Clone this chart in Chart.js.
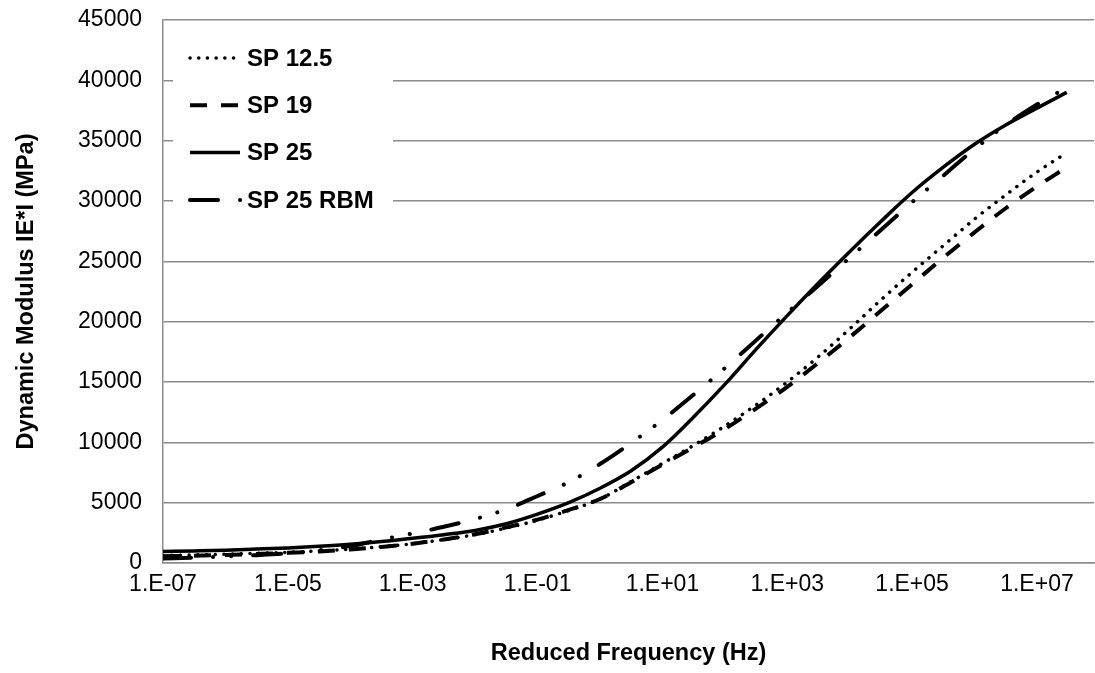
<!DOCTYPE html>
<html>
<head>
<meta charset="utf-8">
<script src="https://cdn.jsdelivr.net/npm/chart.js@4/dist/chart.umd.min.js"></script>
<style>
  html, body { margin: 0; padding: 0; background: #fff; }
</style>
</head>
<body>
<canvas id="chart" width="1095" height="673"></canvas>
<script>
// reduced frequency (Hz), half-decade steps
const freq = [1e-7, 3.16e-7, 1e-6, 3.16e-6, 1e-5, 3.16e-5, 1e-4, 3.16e-4, 1e-3, 3.16e-3,
  1e-2, 3.16e-2, 1e-1, 3.16e-1, 1, 3.16, 10, 31.6, 100, 316,
  1e3, 3.16e3, 1e4, 3.16e4, 1e5, 3.16e5, 1e6, 3.16e6, 1e7, 3e7];

// dynamic modulus |E*| (MPa)
const sp125 = [620, 670, 730, 800, 890, 1000, 1150, 1350, 1600, 1950,
  2350, 2900, 3550, 4350, 5300, 6750, 8250, 9750, 11350, 13100,
  15000, 17100, 19400, 21800, 24100, 26300, 28500, 30500, 32400, 34000];
const sp19 = [560, 610, 670, 750, 840, 960, 1120, 1330, 1600, 1950,
  2380, 2950, 3600, 4400, 5300, 6700, 8150, 9600, 11100, 12800,
  14600, 16600, 18700, 20900, 23100, 25300, 27400, 29400, 31200, 32800];
const sp25 = [950, 1000, 1060, 1150, 1250, 1390, 1560, 1780, 2050, 2350,
  2700, 3250, 4050, 5000, 6200, 7650, 9600, 12100, 14800, 17700,
  20500, 23200, 25800, 28300, 30700, 32800, 34700, 36300, 37700, 39000];
const sp25rbm = [380, 450, 540, 650, 800, 1050, 1400, 1950, 2450, 3000,
  3650, 4450, 5550, 6700, 8200, 9950, 11850, 13950, 16150, 18450,
  20750, 23000, 25300, 27600, 29900, 32100, 34300, 36300, 38000, 39400];

const seriesNames = ['SP 12.5', 'SP 19', 'SP 25', 'SP 25 RBM'];
const xTicks = [1e-7, 1e-5, 1e-3, 1e-1, 1e1, 1e3, 1e5, 1e7];
const xTickLabels = ['1.E-07', '1.E-05', '1.E-03', '1.E-01', '1.E+01', '1.E+03', '1.E+05', '1.E+07'];

const FONT = '"Liberation Sans", Arial, sans-serif';
const pts = (vals) => vals.map((v, i) => ({ x: freq[i], y: v }));

const styles = [
  { borderWidth: 3.5, borderDash: [0.1, 8.6], borderCapStyle: 'round', legendLen: 48 },
  { borderWidth: 4, borderDash: [17, 14], borderCapStyle: 'butt', legendLen: 48 },
  { borderWidth: 3.5, borderDash: [], borderCapStyle: 'butt', legendLen: 50 },
  { borderWidth: 4, borderDash: [28, 22, 0.1, 18, 0.1, 22], borderCapStyle: 'round', legendLen: 52 },
];

const datasets = [sp125, sp19, sp25, sp25rbm].map((vals, i) => Object.assign({
  label: seriesNames[i],
  data: pts(vals),
  borderColor: '#000',
  backgroundColor: '#000',
  pointRadius: 0,
  fill: false,
  cubicInterpolationMode: 'monotone',
}, styles[i]));

// legend drawn inside the plot area, Excel style
const insideLegend = {
  id: 'insideLegend',
  afterDatasetsDraw(chart) {
    const { ctx, chartArea } = chart;
    const left = chartArea.left;
    const top = chartArea.top;
    ctx.save();
    ctx.fillStyle = '#fff';
    ctx.fillRect(left + 10, top + 12, 220, 192);
    chart.data.datasets.forEach((ds, i) => {
      const y = top + 38 + i * 47.3;
      ctx.beginPath();
      ctx.lineWidth = ds.borderWidth;
      ctx.strokeStyle = ds.borderColor;
      ctx.lineCap = ds.borderCapStyle;
      ctx.setLineDash(ds.borderDash);
      ctx.moveTo(left + 27, y);
      ctx.lineTo(left + 27 + ds.legendLen, y);
      ctx.stroke();
      ctx.setLineDash([]);
      ctx.fillStyle = '#000';
      ctx.font = 'bold 24px ' + FONT;
      ctx.textAlign = 'left';
      ctx.textBaseline = 'middle';
      ctx.fillText(ds.label, left + 84, y + 1);
    });
    ctx.restore();
  }
};

new Chart(document.getElementById('chart'), {
  type: 'line',
  data: { datasets },
  options: {
    responsive: false,
    animation: false,
    devicePixelRatio: 1,
    layout: { padding: { top: 20, right: 1, bottom: 0, left: 0 } },
    plugins: { legend: { display: false }, tooltip: { enabled: false } },
    scales: {
      x: {
        type: 'logarithmic',
        min: 1e-7,
        max: 8.2e7,
        afterBuildTicks: (scale) => { scale.ticks = xTicks.map(v => ({ value: v })); },
        afterFit: (scale) => { scale.height = 110; scale.paddingLeft = 0; scale.paddingRight = 0; },
        ticks: {
          autoSkip: false,
          maxRotation: 0,
          padding: 8,
          color: '#000',
          font: { family: FONT, size: 23 },
          callback: (v) => { const k = xTicks.findIndex(t => Math.abs(Math.log10(t) - Math.log10(v)) < 1e-6); return k >= 0 ? xTickLabels[k] : ''; }
        },
        grid: { display: false, drawTicks: false },
        border: { display: true, color: '#8c8c8c', width: 1.5 },
        title: {
          display: true,
          text: 'Reduced Frequency (Hz)',
          color: '#000',
          font: { family: FONT, size: 23.5, weight: 'bold' },
          padding: { top: 0, bottom: 5 }
        }
      },
      y: {
        min: 0,
        max: 45000,
        afterFit: (scale) => { scale.width = 163; scale.paddingTop = 0; scale.paddingBottom = 0; },
        ticks: {
          stepSize: 5000,
          padding: 21,
          color: '#000',
          font: { family: FONT, size: 23 },
          callback: (v) => String(v)
        },
        grid: { color: '#8c8c8c', lineWidth: 1.5, drawTicks: false },
        border: { display: true, color: '#8c8c8c', width: 1.5 },
        title: {
          display: true,
          text: 'Dynamic Modulus IE*I (MPa)',
          color: '#000',
          font: { family: FONT, size: 23.5, weight: 'bold' },
          padding: { top: 12, bottom: 0 }
        }
      }
    }
  },
  plugins: [insideLegend]
});
</script>
</body>
</html>
